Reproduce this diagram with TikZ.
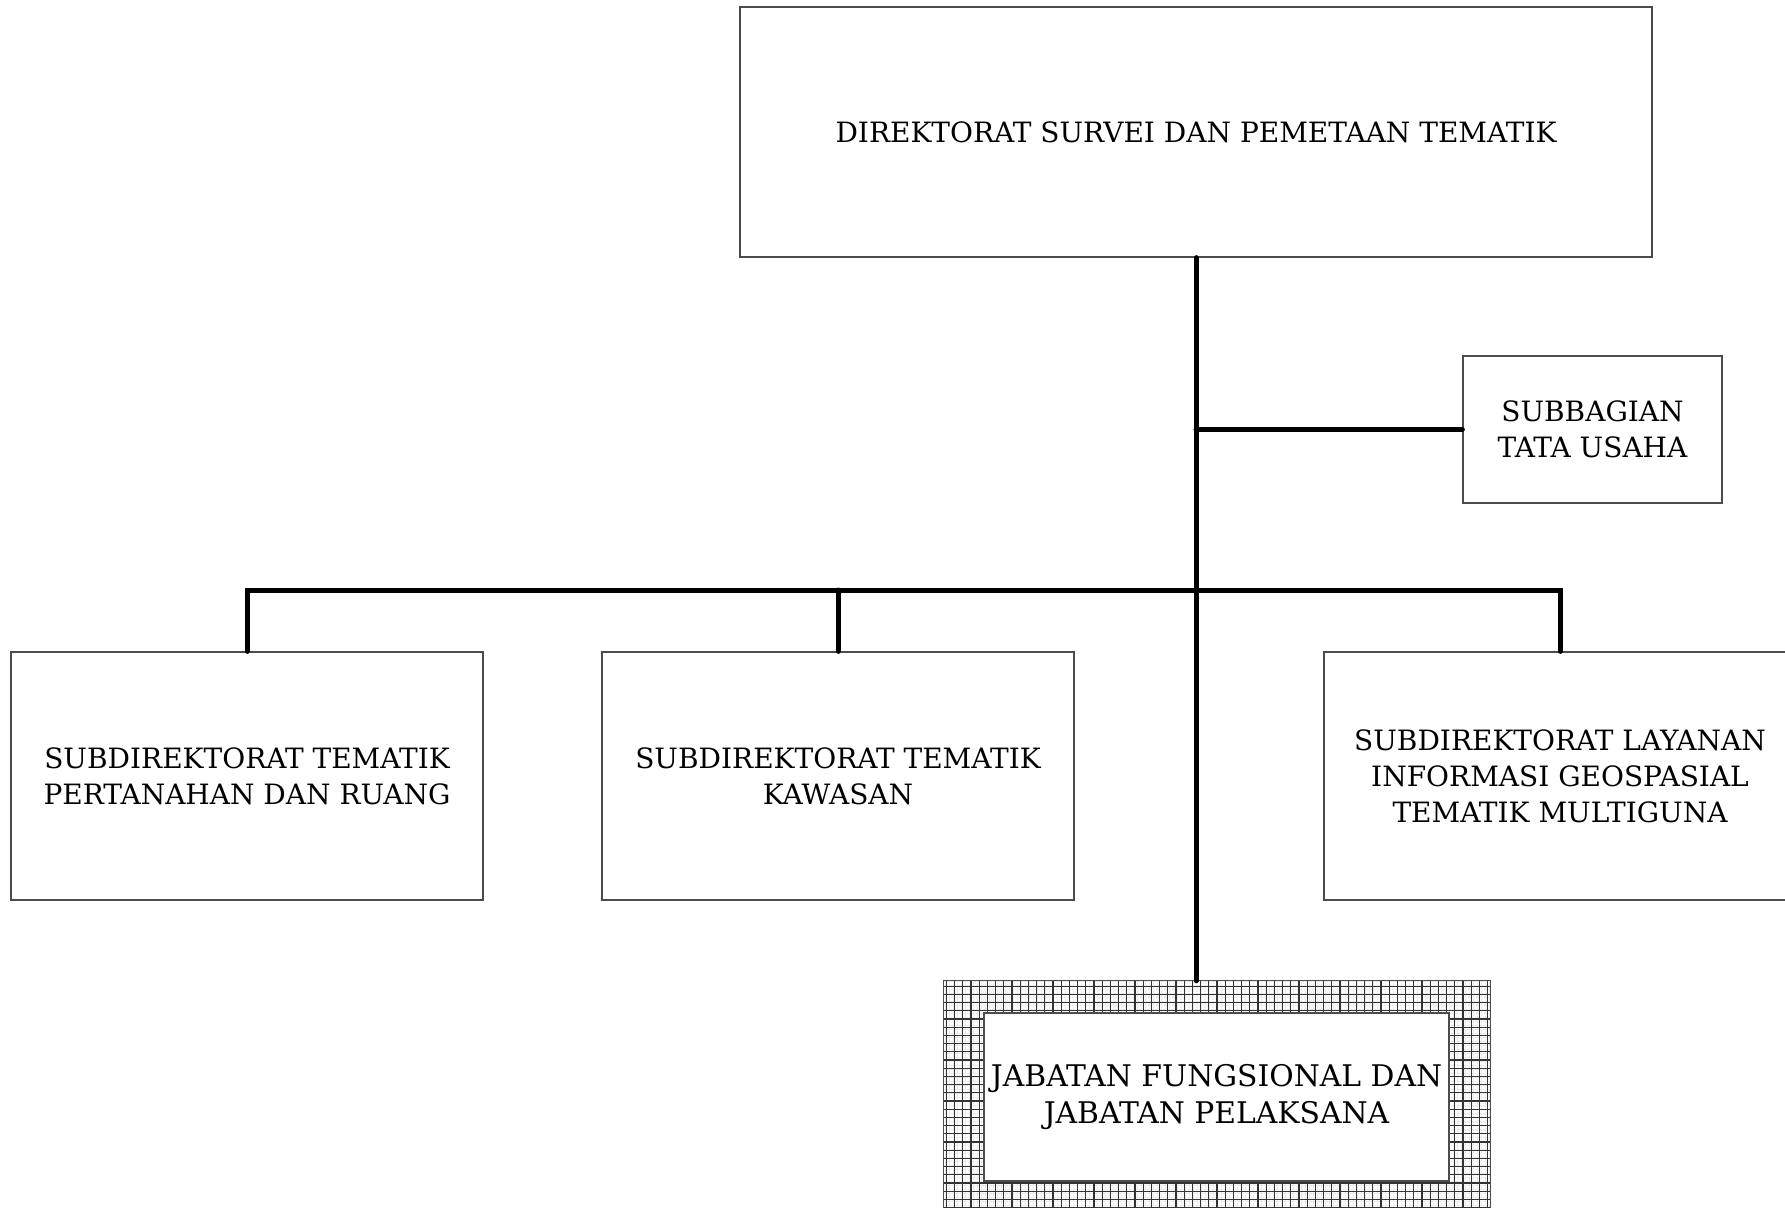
\documentclass[tikz,border=0pt]{standalone}
\usepackage{fontspec}
\setmainfont{DejaVu Serif}
\usetikzlibrary{calc}

\tikzset{
  unitbox/.style={draw=black!70, line width=1.3pt, fill=white, rectangle,
    align=center, inner sep=0pt,
    font=\fontsize{28}{36}\selectfont},
  link/.style={line width=5pt, line cap=round},
  gridmajor/.style={draw=black!80, line width=1.15pt},
  gridminor/.style={draw=black!7, line width=0.8pt}
}

\begin{document}
\begin{tikzpicture}[x=1pt,y=-1pt]
  \useasboundingbox (0,0) rectangle (1785,1207);
  \clip (0,0) rectangle (1785,1207);

  % head of the directorate
  \node[unitbox, minimum width=912pt, minimum height=250pt] (dir) at (1196,132)
    {DIREKTORAT SURVEI DAN PEMETAAN TEMATIK};

  % administrative subdivision
  \node[unitbox, minimum width=259pt, minimum height=147pt] (tu) at (1592.5,429.5)
    {SUBBAGIAN\\TATA USAHA};

  % sub-directorates
  \node[unitbox, minimum width=472pt, minimum height=248pt] (sd1) at (247,776)
    {SUBDIREKTORAT TEMATIK\\PERTANAHAN DAN RUANG};
  \node[unitbox, minimum width=472pt, minimum height=248pt] (sd2) at (838,776)
    {SUBDIREKTORAT TEMATIK\\KAWASAN};
  \node[unitbox, minimum width=472pt, minimum height=248pt] (sd3) at (1560,776)
    {SUBDIREKTORAT LAYANAN\\INFORMASI GEOSPASIAL\\TEMATIK MULTIGUNA};

  % functional positions: hatched frame with an inner white panel
  \node[rectangle, minimum width=546pt, minimum height=240pt, inner sep=0pt,
        path picture={
          \draw[gridminor, xstep=4pt, ystep=4pt]
            (path picture bounding box.south west) grid (path picture bounding box.north east);
          \draw[gridmajor, xstep=8.2pt, ystep=8.2pt]
            (path picture bounding box.south west) grid (path picture bounding box.north east);
        }] (jab) at (1217,1101) {};
  \draw[draw=black!70, line width=1.3pt] (jab.south west) -- (jab.north west) -- (jab.north east) -- (jab.south east);
  \node[unitbox, minimum width=465pt, minimum height=168pt,
        font=\fontsize{29.8}{37.5}\selectfont] (jabin) at (1216.5,1097)
    {JABATAN FUNGSIONAL DAN\\JABATAN PELAKSANA};

  % connectors
  \coordinate (trunkTop) at (dir.south);
  \coordinate (tuJoint) at (trunkTop |- tu.west);
  \coordinate (busJoint) at (1196,590);
  \coordinate (busL) at (sd1.north |- busJoint);
  \coordinate (busR) at (sd3.north |- busJoint);
  \coordinate (busM) at (sd2.north |- busJoint);

  \draw[link] (dir.south) -- (dir.south |- jab.north);
  \draw[link] (tuJoint) -- (tu.west);
  \draw[link] (sd1.north) -- (busL) -- (busR) -- (sd3.north);
  \draw[link] (busM) -- (sd2.north);
\end{tikzpicture}
\end{document}
